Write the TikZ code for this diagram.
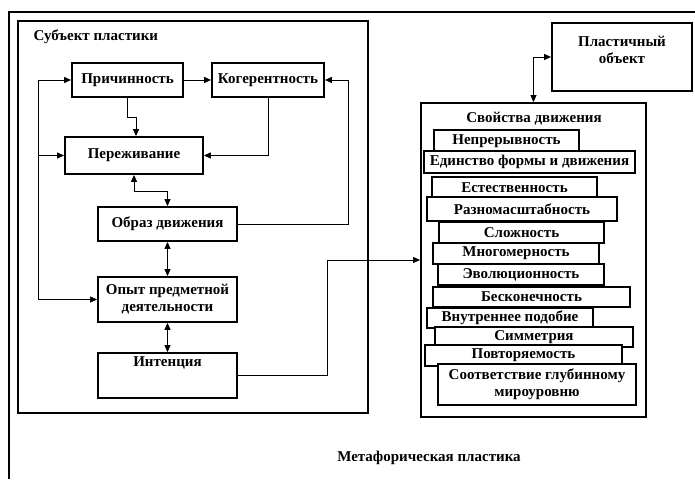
\documentclass[tikz,border=0pt]{standalone}
\usepackage{fontspec}
\setmainfont{Liberation Serif}
\usetikzlibrary{arrows.meta}
\begin{document}
\begin{tikzpicture}[x=1pt,y=-1pt,
  every node/.style={font=\fontsize{15}{17}\selectfont\bfseries,align=center},
  box/.style={draw,line width=1.8pt,fill=white,inner sep=0pt},
  prop/.style={draw,line width=1.6pt,fill=white,inner sep=0pt},
  conn/.style={line width=1pt,>={Triangle[length=7pt,width=6pt]}},
  frame/.style={line width=2pt}]
\useasboundingbox (0,0) rectangle (695,479);
% outer frame
\draw[frame] (9,479) -- (9,12) -- (695,12);
% subject frame
\draw[frame,line width=1.8pt] (18,21) rectangle (368,413);
\node[anchor=west] (subj) at (30,37) {Субъект пластики};
% left nodes
\node[box,minimum width=111,minimum height=34] (prich) at (127.5,80) {Причинность};
\node[box,minimum width=112,minimum height=34] (koger) at (268,80) {Когерентность};
\node[box,minimum width=138,minimum height=37] (perezh) at (134,155.5) {Переживание};
\node[box,minimum width=139,minimum height=34] (obraz) at (167.5,224) {Образ движения};
\node[box,minimum width=139,minimum height=45] (opyt) at (167.5,299.5) {Опыт предметной\\деятельности};
\node[box,minimum width=139,minimum height=45] (intent) at (167.5,375.5) {};
\node (intentt) at (167.5,363) {Интенция};
% connectors left
\draw[conn,->] (prich) -- (koger);
\draw[conn,<->] (prich.west) -- ++(-33,0) |- (opyt.west);
\coordinate (lb) at (39,155.5);
\draw[conn,->] (lb) -- (perezh.west);
\draw[conn,->] (prich.south) -- ++(0,20) -| ([xshift=2pt]perezh.north);
\draw[conn,->] (koger.south) |- (perezh.east);
\draw[conn,<->] (perezh.south) -- ++(0,17) -| (obraz.north);
\draw[conn,->] (obraz.east) -- ++(111,0) |- (koger.east);
\draw[conn,<->] (obraz) -- (opyt);
\draw[conn,<->] (opyt) -- (intent);
% right side
\node[box,minimum width=140,minimum height=68] (plast) at (622,57) {};
\node (plastt) at (622,50) {Пластичный\\объект};
\node[box,minimum width=225,minimum height=314] (svoistva) at (533.5,260) {};
\node (svt) at (534,119) {Свойства движения};
\draw[conn,->] (intent.east) -- ++(90,0) |- (svoistva.west);
\draw[conn,<->] (plast.west) -| (svoistva.north);
% properties
\node[prop,minimum width=145,minimum height=22] (p1) at (506.5,141) {Непрерывность};
\node[prop,minimum width=211,minimum height=22] (p2) at (529.5,162) {Единство формы и движения};
\node[prop,minimum width=165,minimum height=21] (p3) at (514.5,187.5) {Естественность};
\node[prop,minimum width=190,minimum height=24] (p4) at (522,209) {Разномасштабность};
\node[prop,minimum width=165,minimum height=21] (p5) at (521.5,232.5) {Сложность};
\node[prop,minimum width=166,minimum height=21] (p6) at (516,253.5) {Многомерность};
\node[prop,minimum width=166,minimum height=21] (p7) at (521,274.5) {Эволюционность};
\node[prop,minimum width=197,minimum height=20] (p8) at (531.5,297) {Бесконечность};
\node[prop,minimum width=166,minimum height=20] (p9) at (510,318) {Внутреннее подобие};
\node[prop,minimum width=198,minimum height=20] (p10) at (534,337) {Симметрия};
\node[prop,minimum width=197,minimum height=21] (p11) at (523.5,355.5) {Повторяемость};
\node[prop,minimum width=198,minimum height=41] (p12) at (537,384.5) {Соответствие глубинному\\мироуровню};
% caption
\node (meta) at (429,458) {Метафорическая пластика};
\end{tikzpicture}
\end{document}
